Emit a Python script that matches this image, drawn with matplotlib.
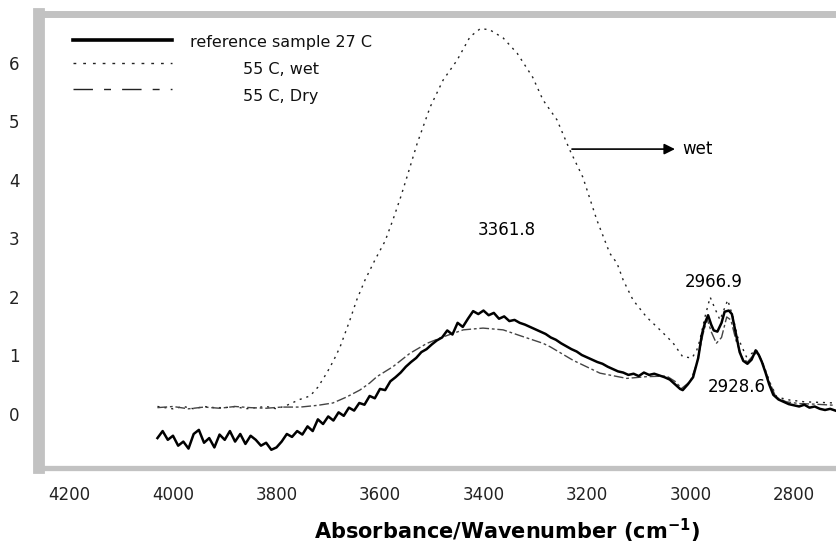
import matplotlib
matplotlib.use("Agg")
import matplotlib.pyplot as plt
from matplotlib.lines import Line2D

plt.rcParams['font.family'] = ['DejaVu Sans']
plt.rcParams['mathtext.fontset'] = 'dejavusans'

# ---- spectra -----------------------------------------------------------
ref_wn = [4030, 4020, 4010, 4000, 3990, 3980, 3970, 3960, 3950, 3940, 3930, 3920,
          3910, 3900, 3890, 3880, 3870, 3860, 3850, 3840, 3830, 3820, 3810, 3800,
          3790, 3780, 3770, 3760, 3750, 3740, 3730, 3720, 3710, 3700, 3690, 3680,
          3670, 3660, 3650, 3640, 3630, 3620, 3610, 3600, 3590, 3580, 3570, 3560,
          3550, 3540, 3530, 3520, 3510, 3500, 3490, 3480, 3470, 3460, 3450, 3440,
          3430, 3420, 3410, 3400, 3390, 3380, 3370, 3360, 3350, 3340, 3330, 3320,
          3310, 3300, 3290, 3280, 3270, 3260, 3250, 3240, 3230, 3220, 3210, 3200,
          3190, 3180, 3170, 3160, 3150, 3140, 3130, 3120, 3110, 3100, 3090, 3080,
          3070, 3060, 3050, 3040, 3030, 3020, 3015, 3005, 2995, 2985, 2978, 2972,
          2966, 2960, 2955, 2948, 2940, 2934, 2926, 2920, 2912, 2905, 2898, 2890,
          2882, 2874, 2868, 2862, 2855, 2848, 2840, 2830, 2820, 2810, 2800, 2790,
          2780, 2770, 2760, 2750, 2740, 2730, 2720]
ref_abs = [-0.42, -0.30, -0.45, -0.38, -0.55, -0.48, -0.60, -0.35, -0.28, -0.50, -0.42, -0.58,
           -0.36, -0.45, -0.30, -0.48, -0.35, -0.52, -0.38, -0.45, -0.55, -0.50, -0.62, -0.58,
           -0.48, -0.35, -0.40, -0.30, -0.36, -0.22, -0.30, -0.10, -0.18, -0.05, -0.12, 0.02,
           -0.04, 0.10, 0.05, 0.18, 0.15, 0.30, 0.26, 0.42, 0.40, 0.55, 0.62, 0.70,
           0.80, 0.88, 0.95, 1.05, 1.10, 1.18, 1.25, 1.30, 1.42, 1.35, 1.55, 1.48,
           1.62, 1.75, 1.70, 1.76, 1.68, 1.72, 1.62, 1.66, 1.58, 1.60, 1.55, 1.52,
           1.48, 1.44, 1.40, 1.36, 1.30, 1.26, 1.20, 1.15, 1.10, 1.06, 1.00, 0.96,
           0.92, 0.88, 0.85, 0.80, 0.76, 0.72, 0.70, 0.66, 0.68, 0.64, 0.70, 0.66,
           0.68, 0.65, 0.62, 0.58, 0.50, 0.42, 0.40, 0.50, 0.62, 0.95, 1.35, 1.55,
           1.68, 1.52, 1.42, 1.40, 1.55, 1.74, 1.76, 1.70, 1.35, 1.05, 0.90, 0.85,
           0.92, 1.08, 1.00, 0.88, 0.70, 0.50, 0.32, 0.24, 0.20, 0.16, 0.14, 0.12,
           0.15, 0.10, 0.12, 0.08, 0.06, 0.08, 0.05]

wet_wn = [4030, 4000, 3980, 3960, 3940, 3920, 3900, 3880, 3860, 3840, 3820, 3800,
          3780, 3770, 3755, 3735, 3720, 3703, 3690, 3677, 3658, 3645, 3629, 3610,
          3590, 3575, 3560, 3548, 3528, 3503, 3478, 3451, 3426, 3406, 3388, 3362,
          3335, 3305, 3285, 3258, 3233, 3208, 3181, 3156, 3142, 3130, 3111, 3085,
          3059, 3034, 3015, 2997, 2988, 2982, 2972, 2962, 2953, 2943, 2928, 2918,
          2909, 2892, 2872, 2860, 2846, 2833, 2808, 2780, 2750, 2720]
wet_abs = [0.12, 0.08, 0.12, 0.08, 0.12, 0.10, 0.10, 0.12, 0.08, 0.10, 0.12, 0.08,
           0.14, 0.18, 0.24, 0.30, 0.45, 0.69, 0.90, 1.14, 1.60, 1.94, 2.28, 2.62,
           2.95, 3.31, 3.70, 4.04, 4.62, 5.24, 5.70, 6.04, 6.44, 6.58, 6.56, 6.42,
           6.16, 5.75, 5.36, 5.02, 4.50, 4.04, 3.31, 2.74, 2.57, 2.28, 1.94, 1.65,
           1.43, 1.21, 0.97, 0.95, 1.08, 1.25, 1.65, 1.99, 1.80, 1.60, 1.94, 1.65,
           1.31, 0.97, 1.08, 0.86, 0.52, 0.28, 0.23, 0.20, 0.19, 0.18]

dry_wn = [4030, 4000, 3970, 3940, 3910, 3880, 3850, 3820, 3790, 3754, 3720, 3691,
          3665, 3639, 3620, 3606, 3575, 3542, 3509, 3478, 3439, 3401, 3362, 3329,
          3285, 3271, 3227, 3175, 3123, 3085, 3046, 3030, 3017, 3000, 2988, 2976,
          2968, 2960, 2950, 2940, 2930, 2922, 2912, 2900, 2890, 2878, 2870, 2860,
          2848, 2835, 2815, 2790, 2760, 2720]
dry_abs = [0.10, 0.12, 0.08, 0.11, 0.09, 0.12, 0.10, 0.09, 0.11, 0.11, 0.14, 0.18,
           0.28, 0.40, 0.52, 0.63, 0.80, 1.03, 1.20, 1.31, 1.43, 1.46, 1.43, 1.33,
           1.20, 1.14, 0.91, 0.69, 0.60, 0.63, 0.64, 0.55, 0.43, 0.55, 0.85, 1.35,
           1.62, 1.40, 1.20, 1.30, 1.65, 1.60, 1.25, 0.95, 0.88, 1.00, 1.05, 0.85,
           0.55, 0.28, 0.20, 0.17, 0.16, 0.14]

series_labels = ["reference sample 27 C", "55 C, wet", "55 C, Dry"]
x_ticks = [4200, 4000, 3800, 3600, 3400, 3200, 3000, 2800]
y_ticks = [0, 1, 2, 3, 4, 5, 6]

# ---- figure ------------------------------------------------------------
W, H = 836, 550
fig = plt.figure(figsize=(W / 100, H / 100), dpi=100)
ax = fig.add_axes([39 / W, 1 - 467.5 / H, 1 - 39 / W, (467.5 - 13.5) / H])

frame = '#c2c2c2'
wet_style = (0, (1.5, 3.5))
dry_style = (0, (7, 2, 2, 2))

ax.plot(wet_wn, wet_abs, color='#222222', lw=1.0, ls=wet_style)
ax.plot(dry_wn, dry_abs, color='#444444', lw=1.0, ls=dry_style)
ax.plot(ref_wn, ref_abs, color='black', lw=1.8)

ax.set_xlim(4258.9, 2718.8)
ax.set_ylim(-0.923, 6.838)
ax.set_xticks(x_ticks)
ax.set_yticks(y_ticks)
ax.tick_params(axis='both', length=0, labelsize=12, colors='#222222')
ax.tick_params(axis='x', pad=13)
ax.tick_params(axis='y', pad=14)

for side, lw in (('left', 8.5), ('top', 5.0), ('bottom', 3.8)):
    ax.spines[side].set_color(frame)
    ax.spines[side].set_linewidth(lw)
ax.spines['right'].set_visible(False)

# legend drawn in axes coordinates
def ax_xy(px, py):
    return ((px - 39) / (W - 39), (467.5 - py) / (467.5 - 13.5))

legend_rows = [
    (40, 42, dict(color='black', lw=2.6, ls='-')),
    (63, 69, dict(color='#222222', lw=1.0, ls=(0, (2, 5)))),
    (89, 97, dict(color='#222222', lw=1.0, ls=(0, (14, 8, 5, 8)))),
]
for (ly, ty, style), label in zip(legend_rows, series_labels):
    x0, y0 = ax_xy(73, ly)
    x1, _ = ax_xy(172, ly)
    ax.add_line(Line2D([x0, x1], [y0, y0], transform=ax.transAxes, **style))
    tx, tyy = ax_xy(281, ty)
    ax.text(tx, tyy, label, transform=ax.transAxes, ha='center', va='center',
            fontsize=11.5, color='#111111')

# peak annotations
ax.text(3355, 3.14, "3361.8", ha='center', va='center', fontsize=12)
ax.text(2955, 2.25, "2966.9", ha='center', va='center', fontsize=12)
ax.text(2910, 0.45, "2928.6", ha='center', va='center', fontsize=12)
ax.annotate('', xy=(3030, 4.52), xytext=(3229, 4.52),
            arrowprops=dict(arrowstyle='-|>', color='black', lw=1.2,
                            mutation_scale=16, shrinkA=0, shrinkB=0))
ax.text(3015, 4.52, "wet", ha='left', va='center', fontsize=12)

fig.text(507 / W, 1 - 531 / H, r'Absorbance/Wavenumber (cm$^{\mathbf{-1}}$)',
         ha='center', va='center', fontsize=15, fontweight='bold')

fig.savefig('out.png', dpi=100)
